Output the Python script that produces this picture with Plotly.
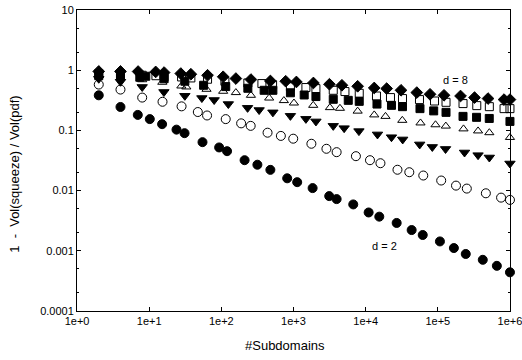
import plotly.graph_objects as go

# ---- data (x = #Subdomains, y = 1 - Vol(squeeze)/Vol(pdf)) ----
x_d2 = [2, 4, 6.95, 10.2, 15.1, 23.9, 30.9, 54.8, 93.2, 120, 210, 316, 478, 818, 1125, 1841,
        3126, 3960, 6730, 11000, 15450, 26900, 43400, 61800, 107000, 167000, 244000, 420000,
        658000, 1000000]
y_d2 = [0.383, 0.245, 0.181, 0.154, 0.127, 0.103, 0.090, 0.0638, 0.0521, 0.0452, 0.0320, 0.0269,
        0.0221, 0.0160, 0.0138, 0.0110, 0.00810, 0.00722, 0.00589, 0.00433, 0.00369, 0.00290,
        0.00221, 0.00183, 0.00143, 0.00111, 0.000885, 0.000708, 0.000562, 0.000439]

x_d3 = [2, 4, 8, 15.3, 28.1, 47.2, 63.4, 115, 188, 255, 437, 668, 991, 1770, 2860, 3960, 7330,
        11480, 16030, 27600, 40270, 62900, 111400, 178700, 252400, 463400, 753000, 1000000]
y_d3 = [0.578, 0.477, 0.351, 0.299, 0.251, 0.202, 0.177, 0.154, 0.131, 0.119, 0.0916, 0.0810,
        0.0728, 0.060, 0.0495, 0.0435, 0.0373, 0.0320, 0.0285, 0.0222, 0.0202, 0.0178, 0.0147,
        0.0121, 0.0108, 0.00902, 0.00764, 0.0070]

x_d4 = [2, 4, 8, 16.0, 31.2, 53.7, 79.5, 125, 231, 334, 518, 906, 1486, 2046, 3556, 5035, 8072,
        14590, 22800, 32600, 56100, 83900, 128000, 234500, 361300, 517600, 1000000]
y_d4 = [0.722, 0.643, 0.527, 0.435, 0.376, 0.345, 0.320, 0.274, 0.237, 0.218, 0.1995, 0.1745,
        0.1555, 0.141, 0.119, 0.109, 0.0973, 0.0858, 0.0771, 0.0708, 0.0585, 0.0531, 0.0492,
        0.0430, 0.0388, 0.0355, 0.0282]

x_d5 = [2, 4, 8, 15.2, 27.9, 32.7, 62.3, 106, 159, 257, 460, 736, 1014, 1876, 3199, 4402, 7745,
        13150, 18830, 32200, 57550, 92900, 129100, 227000, 361300, 517600, 1000000]
y_d5 = [0.810, 0.750, 0.695, 0.631, 0.547, 0.527, 0.482, 0.447, 0.425, 0.383, 0.345, 0.313,
        0.285, 0.261, 0.239, 0.233, 0.209, 0.181, 0.171, 0.147, 0.133, 0.124, 0.118, 0.106,
        0.098, 0.0916, 0.0764]

x_d6 = [2, 4, 7.41, 8.97, 16.1, 31.2, 56.8, 115, 233, 392, 518, 906, 1407, 2046, 3556, 5740, 8150,
        14350, 22800, 32400, 56600, 87700, 130000, 223600, 344300, 516400, 1000000]
y_d6 = [0.810, 0.794, 0.764, 0.794, 0.722, 0.656, 0.562, 0.535, 0.501, 0.464, 0.464, 0.422,
        0.388, 0.365, 0.329, 0.316, 0.304, 0.274, 0.261, 0.248, 0.230, 0.211, 0.1995, 0.171,
        0.165, 0.158, 0.141]

x_d7 = [2, 4, 8, 12.4, 16.1, 28.1, 37.8, 64.4, 112, 233, 365, 513, 906, 1486, 2046, 3556, 5165,
        8150, 14120, 22080, 32400, 55720, 90000, 130000, 223600, 346700, 517600, 828000, 1000000]
y_d7 = [0.874, 0.858, 0.825, 0.810, 0.779, 0.773, 0.744, 0.708, 0.656, 0.614, 0.600, 0.573,
        0.531, 0.515, 0.495, 0.464, 0.442, 0.414, 0.373, 0.351, 0.338, 0.325, 0.308, 0.293,
        0.279, 0.258, 0.248, 0.230, 0.230]

x_d8 = [2, 4, 7.02, 12.3, 16.1, 27.4, 37.8, 64.4, 106, 159, 257, 478, 780, 1097, 1888, 3148, 4690,
        7745, 13150, 19550, 30900, 51150, 78000, 121900, 206500, 322800, 496600, 828000, 1000000]
y_d8 = [0.955, 0.955, 0.951, 0.937, 0.915, 0.881, 0.858, 0.825, 0.779, 0.727, 0.700, 0.663,
        0.656, 0.638, 0.614, 0.585, 0.562, 0.541, 0.507, 0.495, 0.464, 0.425, 0.398, 0.383,
        0.373, 0.351, 0.338, 0.325, 0.325]

x_tick_vals = [1, 10, 100, 1000, 10000, 100000, 1000000]
x_tick_text = ["1e+0", "1e+1", "1e+2", "1e+3", "1e+4", "1e+5", "1e+6"]
y_tick_vals = [0.0001, 0.001, 0.01, 0.1, 1, 10]
y_tick_text = ["0.0001", "0.001", "0.01", "0.1", "1", "10"]

series = [
    ("d=2", x_d2, y_d2, "circle", 9),
    ("d=3", x_d3, y_d3, "circle-open", 9),
    ("d=4", x_d4, y_d4, "triangle-down", 9),
    ("d=5", x_d5, y_d5, "triangle-up-open", 8),
    ("d=6", x_d6, y_d6, "square", 8),
    ("d=7", x_d7, y_d7, "square-open", 8),
    ("d=8", x_d8, y_d8, "diamond", 9),
]

FONT = "Arial, Liberation Sans, sans-serif"

fig = go.Figure()
for name, xs, ys, sym, sz in series:
    fig.add_trace(go.Scatter(
        x=xs, y=ys, mode="markers", name=name, cliponaxis=False,
        marker=dict(symbol=sym, size=sz, color="black", line=dict(color="black", width=1)),
    ))

fig.update_layout(
    width=522, height=360,
    margin=dict(l=77, r=12, t=10, b=49, autoexpand=False),
    paper_bgcolor="white", plot_bgcolor="white",
    showlegend=False,
    font=dict(family=FONT, size=11, color="black"),
)

fig.update_xaxes(
    type="log", range=[-0.0005, 6.0005],
    tickvals=x_tick_vals, ticktext=x_tick_text,
    ticks="inside", ticklen=4, tickwidth=1, tickcolor="black",
    showline=True, linecolor="black", linewidth=1, mirror="ticks",
    showgrid=False, zeroline=False, ticklabeloverflow="allow",
    tickfont=dict(family=FONT, size=11, color="black"),
)
fig.update_yaxes(
    type="log", range=[-4.0005, 1.0005],
    tickvals=y_tick_vals, ticktext=y_tick_text,
    ticks="inside", ticklen=4, tickwidth=1, tickcolor="black",
    showline=True, linecolor="black", linewidth=1, mirror="ticks",
    showgrid=False, zeroline=False, ticklabeloverflow="allow",
    minor=dict(ticks="inside", ticklen=2, tickcolor="black", showgrid=False),
    tickfont=dict(family=FONT, size=11, color="black"),
)

fig.add_annotation(text="#Subdomains", xref="paper", yref="paper", x=0.48, y=-0.113,
                   showarrow=False, xanchor="center", yanchor="middle",
                   font=dict(family=FONT, size=13, color="black"))
fig.add_annotation(text="1  -  Vol(squeeze) / Vol(pdf)", xref="paper", yref="paper",
                   x=-0.146, y=0.455, textangle=-90, showarrow=False,
                   xanchor="center", yanchor="middle",
                   font=dict(family=FONT, size=13, color="black"))
fig.add_annotation(text="d = 8", x=5.239, y=-0.167, xref="x", yref="y", showarrow=False,
                   font=dict(family=FONT, size=11, color="black"))
fig.add_annotation(text="d = 2", x=4.268, y=-2.917, xref="x", yref="y", showarrow=False,
                   font=dict(family=FONT, size=11, color="black"))

fig.write_html("out.html", config={"displayModeBar": False},
               post_script="document.body.style.margin='0px';document.body.style.overflow='hidden';")
